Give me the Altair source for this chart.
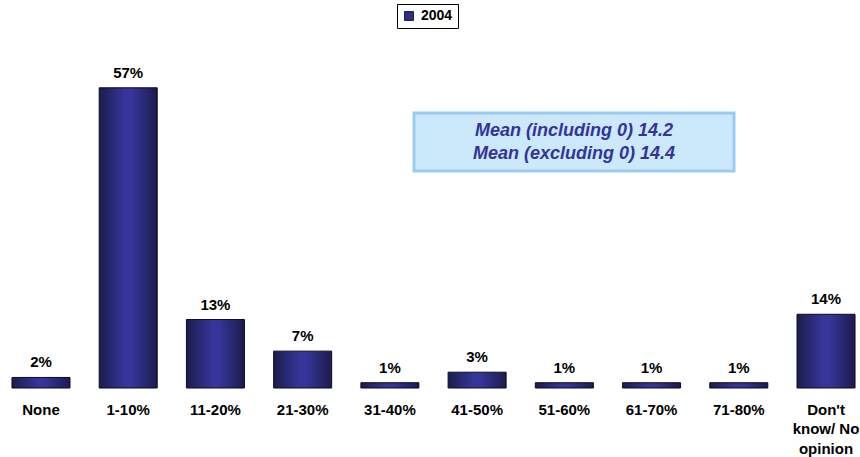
import altair as alt
import pandas as pd

# Share of respondents by answer band, 2004
categories = ["None", "1-10%", "11-20%", "21-30%", "31-40%", "41-50%",
              "51-60%", "61-70%", "71-80%", "Don't|know/ No|opinion"]
values = [2, 57, 13, 7, 1, 3, 1, 1, 1, 14]
labels = ["2%", "57%", "13%", "7%", "1%", "3%", "1%", "1%", "1%", "14%"]
series = ["2004"] * len(categories)

mean_lines = ["Mean (including 0) 14.2", "Mean (excluding 0) 14.4"]

df = pd.DataFrame({"cat": categories, "value": values, "label": labels, "series": series})

FONT = "Liberation Sans"

x_enc = alt.X(
    "cat:N", sort=categories, title=None,
    scale=alt.Scale(paddingInner=0.335, paddingOuter=0.057),
    axis=alt.Axis(domain=False, ticks=False, grid=False, labelAngle=0,
                  labelFont=FONT, labelFontWeight="bold", labelFontSize=15,
                  labelColor="black", labelPadding=14, labelLineHeight=19.5,
                  labelBaseline="top",
                  labelExpr="split(datum.label, '|')"),
)
y_enc = alt.Y("value:Q", scale=alt.Scale(domain=[0, 60], nice=False), axis=None)

bar_fill = alt.Gradient(
    gradient="linear", x1=0, x2=1, y1=0, y2=0,
    stops=[
        alt.GradientStop(offset=0, color="#1c1c4e"),
        alt.GradientStop(offset=0.45, color="#36369a"),
        alt.GradientStop(offset=0.55, color="#36369a"),
        alt.GradientStop(offset=1, color="#1c1c4e"),
    ],
)

base = alt.Chart(df)

bars = base.mark_bar(fill=bar_fill, stroke="#0a0a20", strokeWidth=1).encode(x=x_enc, y=y_enc)

value_text = base.mark_text(
    font=FONT, fontWeight="bold", fontSize=15, color="black",
    baseline="bottom", dy=-7,
).encode(x=alt.X("cat:N", sort=categories), y="value:Q", text="label:N")

# Invisible layer that only carries the series legend
legend_layer = base.mark_point(shape="square", filled=True, opacity=0).encode(
    x=alt.X("cat:N", sort=categories), y="value:Q",
    color=alt.Color(
        "series:N", scale=alt.Scale(range=["#2e2e88"]), title=None,
        legend=alt.Legend(
            orient="none", legendX=390, legendY=-68, direction="horizontal",
            strokeColor="black", fillColor="white", padding=5,
            symbolType="square", symbolSize=80, symbolOpacity=1,
            symbolStrokeColor="black", symbolStrokeWidth=0.8,
            labelFont=FONT, labelFontWeight="bold", labelFontSize=14,
            labelColor="black", labelOffset=5,
        ),
    ),
)

# Mean summary box
note_df = pd.DataFrame({"line1": [mean_lines[0]], "line2": [mean_lines[1]]})
note_box = alt.Chart(note_df).mark_rect(
    fill="#cce9fc", stroke="#9ccbf2", strokeWidth=3,
).encode(x=alt.value(407), x2=alt.value(727), y=alt.value(41), y2=alt.value(99))
note_text1 = alt.Chart(note_df).mark_text(
    font=FONT, fontStyle="italic", fontWeight="bold", fontSize=18, color="#33339a",
).encode(x=alt.value(567), y=alt.value(59), text="line1:N")
note_text2 = alt.Chart(note_df).mark_text(
    font=FONT, fontStyle="italic", fontWeight="bold", fontSize=18, color="#33339a",
).encode(x=alt.value(567), y=alt.value(82), text="line2:N")

chart = alt.layer(
    bars, value_text, legend_layer, note_box, note_text1, note_text2
).properties(
    width=853, height=316,
    autosize=alt.AutoSizeParams(type="none"),
    padding={"left": 7, "top": 72, "right": 0, "bottom": 69},
    background="white",
).configure_view(stroke=None)

chart.save("out.html", embed_options={"renderer": "svg", "actions": False})
